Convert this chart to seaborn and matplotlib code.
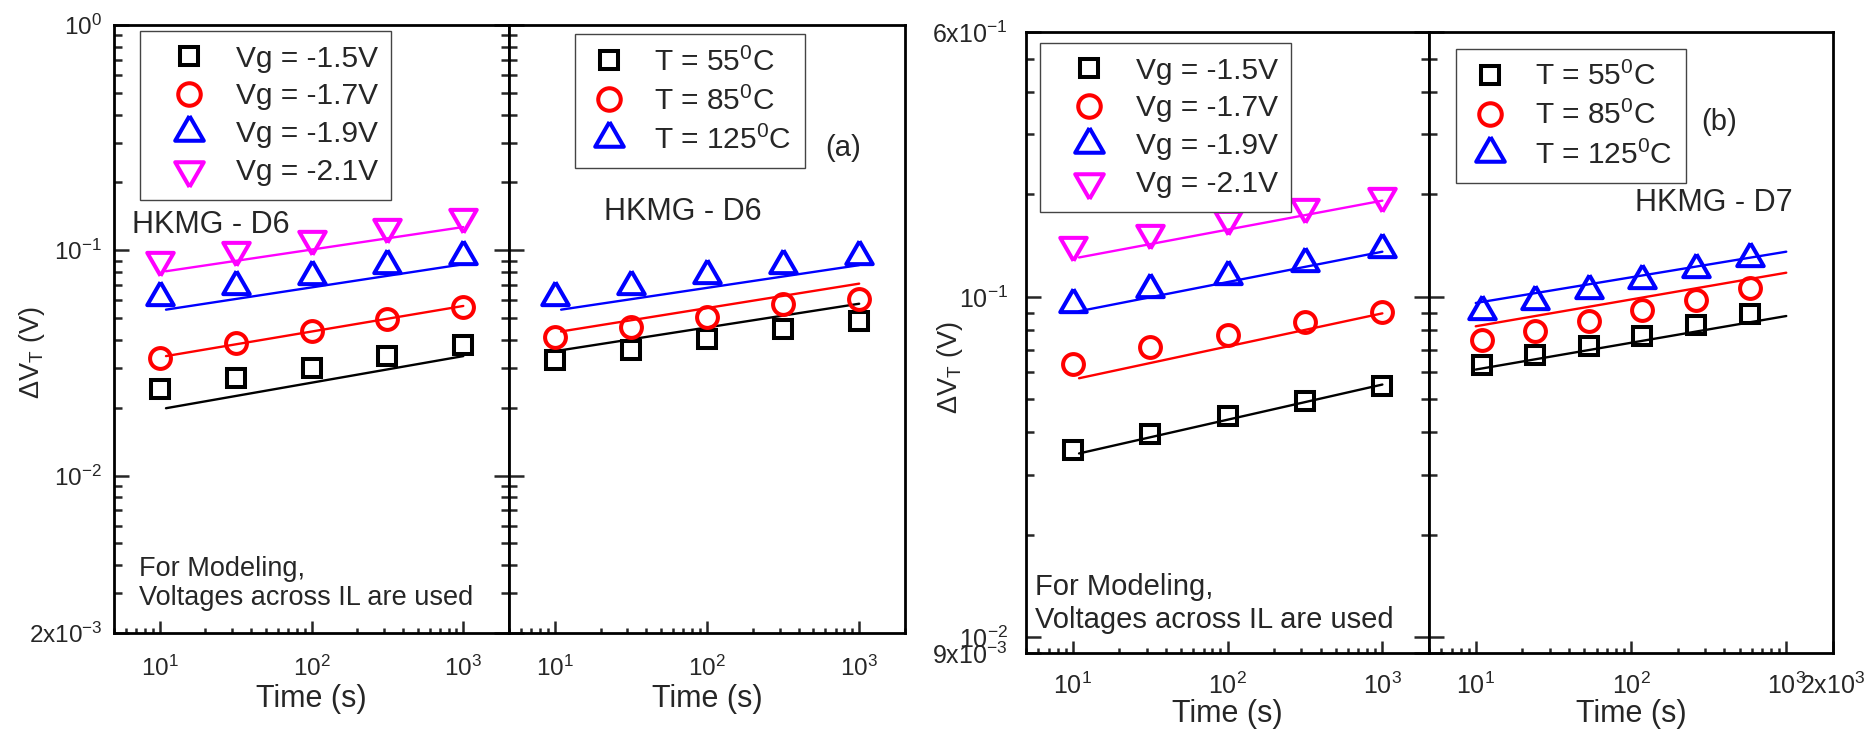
import matplotlib
matplotlib.use("Agg")
import matplotlib.pyplot as plt
import seaborn as sns
from matplotlib.ticker import LogLocator, NullFormatter, FixedLocator, FixedFormatter

# ------------------------------------------------------------------ data
time_pts = [10, 31.6, 100, 316, 1000]
fit_time = [11, 1000]
time_pts_b_T = [11, 24, 54, 118, 262, 580]
fit_time_b_T = [10, 1000]

vg_labels = ["Vg = -1.5V", "Vg = -1.7V", "Vg = -1.9V", "Vg = -2.1V"]
T_labels = ["T = 55$^0$C", "T = 85$^0$C", "T = 125$^0$C"]

# Panel (a) - voltage dependence (HKMG - D6)
a_vg15 = [0.0241, 0.0271, 0.0301, 0.0340, 0.0381]
a_vg17 = [0.0331, 0.0387, 0.0440, 0.0495, 0.0560]
a_vg19 = [0.0622, 0.0694, 0.0770, 0.0859, 0.0940]
a_vg21 = [0.0909, 0.1000, 0.1127, 0.1268, 0.1407]
a_vg15_fit = [0.0199, 0.0339]
a_vg17_fit = [0.0339, 0.0566]
a_vg19_fit = [0.0545, 0.0867]
a_vg21_fit = [0.0807, 0.1268]

# Panel (a) - temperature dependence
a_t55 = [0.0325, 0.0360, 0.0402, 0.0446, 0.0484]
a_t85 = [0.0410, 0.0457, 0.0507, 0.0579, 0.0608]
a_t125 = [0.0622, 0.0694, 0.0779, 0.0859, 0.0940]
a_t55_fit = [0.0360, 0.0579]
a_t85_fit = [0.0436, 0.0711]
a_t125_fit = [0.0545, 0.0859]

# Panel (b) - voltage dependence (HKMG - D7)
b_vg15 = [0.0356, 0.0397, 0.0446, 0.0496, 0.0548]
b_vg17 = [0.0637, 0.0712, 0.0775, 0.0846, 0.0901]
b_vg19 = [0.0951, 0.1055, 0.1153, 0.1254, 0.1379]
b_vg21 = [0.1422, 0.1538, 0.1691, 0.1841, 0.1980]
b_vg15_fit = [0.0347, 0.0553]
b_vg17_fit = [0.0577, 0.0895]
b_vg19_fit = [0.0908, 0.1358]
b_vg21_fit = [0.1306, 0.1918]

# Panel (b) - temperature dependence
b_t55 = [0.0632, 0.0674, 0.0718, 0.0769, 0.0828, 0.0893]
b_t85 = [0.0746, 0.0795, 0.0852, 0.0916, 0.0981, 0.1062]
b_t125 = [0.0907, 0.0975, 0.1049, 0.1124, 0.1209, 0.1303]
b_t55_fit = [0.0612, 0.0879]
b_t85_fit = [0.0820, 0.1178]
b_t125_fit = [0.0960, 0.1358]

# axis tick values / labels
a_yticks = [2e-3, 1e-2, 1e-1, 1.0]
a_yticklabels = ["2x10$^{-3}$", "10$^{-2}$", "10$^{-1}$", "10$^0$"]
b_yticks = [9e-3, 1e-2, 1e-1, 6e-1]
b_yticklabels = ["9x10$^{-3}$", "10$^{-2}$", "10$^{-1}$", "6x10$^{-1}$"]
xticks = [10, 100, 1000]
xticklabels = ["10$^1$", "10$^2$", "10$^3$"]
xticks_last = [10, 100, 1000, 2000]
xticklabels_last = ["10$^1$", "10$^2$", "10$^3$", "2x10$^3$"]

# ------------------------------------------------------------------ style
sns.set_style("white")
plt.rcParams["font.family"] = ["Liberation Sans", "DejaVu Sans"]
plt.rcParams["mathtext.fontset"] = "custom"
plt.rcParams["mathtext.rm"] = "Liberation Sans"
plt.rcParams["mathtext.it"] = "Liberation Sans"
plt.rcParams["mathtext.bf"] = "Liberation Sans:bold"

BLACK, RED, BLUE, MAG = "#000000", "#ff0000", "#0000ff", "#ff00ff"
TRI_UP = [(0, 1), (-0.866, -0.5), (0.866, -0.5), (0, 1)]
TRI_DN = [(0, -1), (-0.866, 0.5), (0.866, 0.5), (0, -1)]
MK = {"s": ("s", 12.5), "o": ("o", 15.0), "^": (TRI_UP, 22.0), "v": (TRI_DN, 22.0)}
MEW = 2.9

fig = plt.figure(figsize=(18.76, 7.31), dpi=100)
W, H = 1876.0, 731.0


def add_ax(x0, x1, y0, y1, sharey=None):
    return fig.add_axes([x0 / W, 1 - y1 / H, (x1 - x0) / W, (y1 - y0) / H], sharey=sharey)


def series(ax, t, vals, ft, fvals, color, mk):
    sns.lineplot(x=ft, y=fvals, ax=ax, color=color, lw=1.7, legend=False)
    marker, ms = MK[mk]
    sns.lineplot(x=t, y=vals, ax=ax, color=color, marker=marker, markersize=ms,
                 markerfacecolor="none", markeredgecolor=color, markeredgewidth=MEW,
                 linestyle="", legend=False)
    return ax.lines[-1]


def style_pair(axL, axR, yticks, yticklabels, ylim, fs, ypad, xpad, last_labels=False):
    for ax in (axL, axR):
        ax.set_xscale("log")
        ax.set_yscale("log")
        ax.set_xlim(5, 2000)
        ax.set_ylim(*ylim)
        for s in ax.spines.values():
            s.set_linewidth(2.0)
            s.set_color("black")
        ax.xaxis.set_major_locator(FixedLocator(xticks))
        ax.xaxis.set_major_formatter(FixedFormatter(xticklabels))
        ax.xaxis.set_minor_locator(LogLocator(base=10, subs=range(2, 10), numticks=20))
        ax.xaxis.set_minor_formatter(NullFormatter())
        ax.tick_params(axis="x", which="both", direction="in", bottom=True, top=False,
                       width=1.8, labelsize=fs, pad=xpad)
        ax.tick_params(axis="x", which="major", length=8.5)
        ax.tick_params(axis="x", which="minor", length=3.8)
        ax.set_xlabel("")
        ax.set_ylabel("")
    if last_labels:
        axR.xaxis.set_major_locator(FixedLocator(xticks_last))
        axR.xaxis.set_major_formatter(FixedFormatter(xticklabels_last))
    axL.yaxis.set_major_locator(FixedLocator(yticks))
    axL.yaxis.set_major_formatter(FixedFormatter(yticklabels))
    axL.yaxis.set_minor_locator(LogLocator(base=10, subs=range(2, 10), numticks=20))
    axL.yaxis.set_minor_formatter(NullFormatter())
    axL.tick_params(axis="y", which="both", direction="in", left=True, right=True,
                    labelleft=True, labelright=False, width=1.8, labelsize=fs, pad=ypad)
    axR.tick_params(axis="y", which="both", direction="in", left=True, right=False,
                    labelleft=False, labelright=False, width=1.8)
    for ax in (axL, axR):
        ax.tick_params(axis="y", which="major", length=10.8)
        ax.tick_params(axis="y", which="minor", length=6.0)
    axL.set_ylim(*ylim)


def legend(ax, handles, labels, anchor, handlelength=2.4, handletextpad=0.35):
    leg = ax.legend(handles=handles, labels=labels, loc="upper left", bbox_to_anchor=anchor,
                    borderaxespad=0, fontsize=21.5, frameon=True, fancybox=False,
                    edgecolor="#444444", framealpha=1, handlelength=handlelength,
                    handletextpad=handletextpad, borderpad=0.45, labelspacing=0.33,
                    markerscale=1.08)
    leg.get_frame().set_linewidth(1.0)


# ------------------------------------------------------------------ panel (a)
a1 = add_ax(114, 509, 25, 633)
a2 = add_ax(509, 905, 25, 633, sharey=a1)
for ax in (a1, a2):
    ax.set_xscale("log")
    ax.set_yscale("log")

h = [series(a1, time_pts, a_vg15, fit_time, a_vg15_fit, BLACK, "s"),
     series(a1, time_pts, a_vg17, fit_time, a_vg17_fit, RED, "o"),
     series(a1, time_pts, a_vg19, fit_time, a_vg19_fit, BLUE, "^"),
     series(a1, time_pts, a_vg21, fit_time, a_vg21_fit, MAG, "v")]
h2 = [series(a2, time_pts, a_t55, fit_time, a_t55_fit, BLACK, "s"),
      series(a2, time_pts, a_t85, fit_time, a_t85_fit, RED, "o"),
      series(a2, time_pts, a_t125, fit_time, a_t125_fit, BLUE, "^")]
style_pair(a1, a2, a_yticks, a_yticklabels, (2e-3, 1.0), 17.5, 8.5, 16)
legend(a1, h, vg_labels, (0.066, 0.990))
legend(a2, h2, T_labels, (0.167, 0.985), handlelength=1.4, handletextpad=0.8)

a1.text(0.046, 0.671, "HKMG - D6", transform=a1.transAxes, fontsize=22, ha="left", va="center")
a1.text(0.063, 0.081, "For Modeling,\nVoltages across IL are used", transform=a1.transAxes,
        fontsize=19.5, ha="left", va="center", linespacing=1.15)
a2.text(0.439, 0.692, "HKMG - D6", transform=a2.transAxes, fontsize=22, ha="center", va="center")
a2.text(0.843, 0.798, "(a)", transform=a2.transAxes, fontsize=21, ha="center", va="center")
a1.text(-0.208, 0.462, "ΔV$_T$ (V)", transform=a1.transAxes, fontsize=19.5, rotation=90,
        ha="center", va="center")
for ax in (a1, a2):
    ax.text(0.5, -0.108, "Time (s)", transform=ax.transAxes, fontsize=22, ha="center", va="center")

# ------------------------------------------------------------------ panel (b)
b1 = add_ax(1026, 1429, 32, 653)
b2 = add_ax(1429, 1833, 32, 653, sharey=b1)
for ax in (b1, b2):
    ax.set_xscale("log")
    ax.set_yscale("log")

g = [series(b1, time_pts, b_vg15, fit_time, b_vg15_fit, BLACK, "s"),
     series(b1, time_pts, b_vg17, fit_time, b_vg17_fit, RED, "o"),
     series(b1, time_pts, b_vg19, fit_time, b_vg19_fit, BLUE, "^"),
     series(b1, time_pts, b_vg21, fit_time, b_vg21_fit, MAG, "v")]
g2 = [series(b2, time_pts_b_T, b_t55, fit_time_b_T, b_t55_fit, BLACK, "s"),
      series(b2, time_pts_b_T, b_t85, fit_time_b_T, b_t85_fit, RED, "o"),
      series(b2, time_pts_b_T, b_t125, fit_time_b_T, b_t125_fit, BLUE, "^")]
style_pair(b1, b2, b_yticks, b_yticklabels, (9e-3, 0.6), 18, 13, 14, last_labels=True)
legend(b1, g, vg_labels, (0.035, 0.982))
legend(b2, g2, T_labels, (0.067, 0.973), handlelength=1.4, handletextpad=0.8)

b1.text(0.022, 0.080, "For Modeling,\nVoltages across IL are used", transform=b1.transAxes,
        fontsize=21, ha="left", va="center", linespacing=1.2)
b2.text(0.718, 0.855, "(b)", transform=b2.transAxes, fontsize=21, ha="center", va="center")
b2.text(0.705, 0.725, "HKMG - D7", transform=b2.transAxes, fontsize=22, ha="center", va="center")
b1.text(-0.189, 0.459, "ΔV$_T$ (V)", transform=b1.transAxes, fontsize=19.5, rotation=90,
        ha="center", va="center")
for ax in (b1, b2):
    ax.text(0.5, -0.099, "Time (s)", transform=ax.transAxes, fontsize=22, ha="center", va="center")

fig.savefig("out.png", dpi=100)
